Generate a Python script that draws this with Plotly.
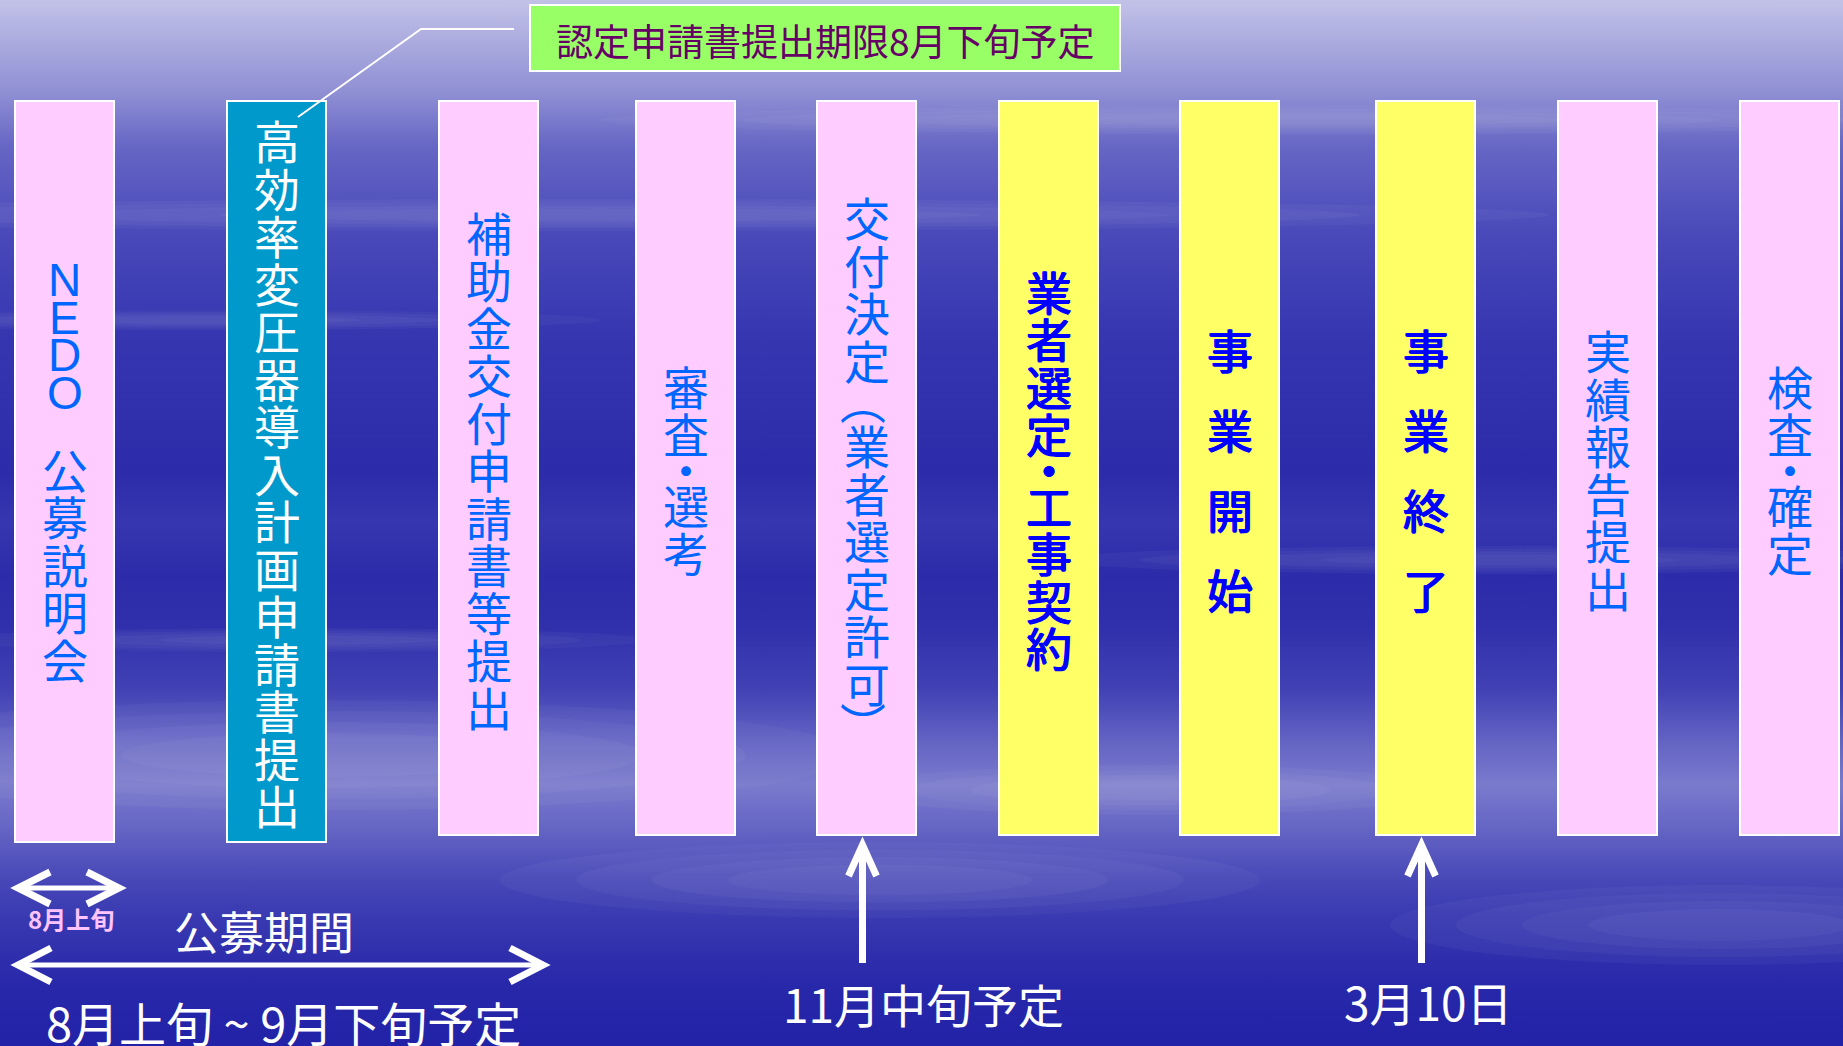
import plotly.graph_objects as go

# ---------------- data ----------------
step_labels = [
    "NEDO 公募説明会",
    "高効率変圧器導入計画申請書提出",
    "補助金交付申請書等提出",
    "審査・選考",
    "交付決定（業者選定許可）",
    "業者選定・工事契約",
    "事 業 開 始",
    "事 業 終 了",
    "実績報告提出",
    "検査・確定",
]
step_kind = ["pink", "teal", "pink", "pink", "pink",
             "yellow", "yellow", "yellow", "pink", "pink"]
deadline_note = "認定申請書提出期限8月下旬予定"
briefing_period = "8月上旬"
call_title = "公募期間"
call_period = "8月上旬 ~ 9月下旬予定"
milestone_labels = ["11月中旬予定", "3月10日"]
milestone_steps = [4, 7]

# ---------------- layout constants ----------------
W, H = 1843, 1046
box_left = [15, 227, 439, 636, 817, 999, 1180, 1376, 1558, 1740]
box_w = 99
box_top = 101
box_bottom = [842, 842, 835, 835, 835, 835, 835, 835, 835, 835]
fill_col = {"pink": "#FFCCFF", "teal": "#0099CC", "yellow": "#FFFF66"}
text_col = {"pink": "#0066FF", "teal": "#FFFFFF", "yellow": "#0000FF"}
text_shadow = {
    "pink": "none", "teal": "none",
    "yellow": "0.8px 0px 0px #0000FF, -0.8px 0px 0px #0000FF, 0px 0.6px 0px #0000FF",
}
PITCH = 47.5
FS = 46
CJK = "Noto Sans CJK JP"
PARENS = "（）"

def advance(ch):
    if ch == " ":
        return 0.68 * PITCH
    if ch == "・":
        return 0.5 * PITCH
    if ch in PARENS:
        return 0.8 * PITCH
    if ord(ch) < 128:
        return 0.79 * PITCH
    return PITCH

fig = go.Figure()

# background sky gradient
bg_stops = [
    (0.00, "#C2C2E8"), (0.04, "#ABABDF"), (0.09, "#8E8ED4"), (0.14, "#6666C5"),
    (0.22, "#4A4ABA"), (0.32, "#3636B1"), (0.45, "#2C2CAA"), (0.50, "#3636B0"),
    (0.55, "#2C2CAA"), (0.60, "#3030AC"), (0.66, "#4242B5"), (0.71, "#6464C4"),
    (0.75, "#7A7ACD"), (0.79, "#6666C5"), (0.84, "#4848B8"), (0.88, "#3838B1"),
    (0.94, "#2828AA"), (1.00, "#2222A8"),
]
fig.add_trace(go.Scatter(
    x=[0, W, W, 0, 0], y=[0, 0, H, H, 0], mode="lines", fill="toself",
    line=dict(width=0), hoverinfo="skip", showlegend=False,
    fillgradient=dict(type="vertical", start=0, stop=H,
                      colorscale=[[s, c] for s, c in bg_stops]),
))

shapes = []
# soft cloud streaks: layered translucent ellipses (cx, cy, rx, ry)
clouds = [
    (330, 755, 520, 55), (880, 880, 380, 38), (1720, 925, 330, 40),
    (1150, 790, 300, 25), (600, 215, 950, 16), (1300, 120, 700, 14),
    (200, 320, 400, 10), (1500, 560, 450, 14), (300, 640, 350, 12),
]
for cx, cy, rx, ry in clouds:
    for f in (1.0, 0.8, 0.6, 0.4):
        shapes.append(dict(type="circle", x0=cx - rx * f, x1=cx + rx * f,
                           y0=cy - ry * f, y1=cy + ry * f,
                           fillcolor="white", opacity=0.035, line=dict(width=0)))

annotations = []

# step boxes with vertical (tategaki) text
for i, label in enumerate(step_labels):
    kind = step_kind[i]
    x0 = box_left[i]
    x1 = x0 + box_w
    shapes.append(dict(type="rect", x0=x0, x1=x1, y0=box_top, y1=box_bottom[i],
                       fillcolor=fill_col[kind], line=dict(color="white", width=2)))
    cx = (x0 + x1) / 2
    cy = (box_top + box_bottom[i]) / 2
    total = sum(advance(c) for c in label)
    y = cy - total / 2
    for ch in label:
        a = advance(ch)
        if ch != " ":
            fam = "Liberation Sans" if ord(ch) < 128 else CJK
            annotations.append(dict(
                x=cx, y=y + a / 2, text=ch, showarrow=False,
                xanchor="center", yanchor="middle",
                textangle=90 if ch in PARENS else 0,
                font=dict(family=fam, size=FS, color=text_col[kind],
                          shadow=text_shadow[kind])))
        y += a

# deadline note box + callout line
shapes.append(dict(type="rect", x0=530, x1=1120, y0=5, y1=71,
                   fillcolor="#99FF66", line=dict(color="white", width=2)))
annotations.append(dict(x=825, y=40, text=deadline_note, showarrow=False,
                        xanchor="center", yanchor="middle",
                        font=dict(family=CJK, size=37, color="#660066")))
shapes.append(dict(type="path", path="M 298 117 L 421 29 L 514 29",
                   line=dict(color="white", width=2)))

# arrows
def h_double_arrow(xa, xb, y, head, half, w):
    shapes.append(dict(type="line", x0=xa + 3, x1=xb - 3, y0=y, y1=y,
                       line=dict(color="white", width=w)))
    shapes.append(dict(type="path",
                       path=f"M {xa+head} {y-half} L {xa} {y} L {xa+head} {y+half}",
                       line=dict(color="white", width=w + 2)))
    shapes.append(dict(type="path",
                       path=f"M {xb-head} {y-half} L {xb} {y} L {xb-head} {y+half}",
                       line=dict(color="white", width=w + 2)))

h_double_arrow(18, 119, 888, 32, 16, 5)
h_double_arrow(18, 543, 965, 33, 17, 5)

for k, si in enumerate(milestone_steps):
    ax = box_left[si] + box_w / 2 - 4
    shapes.append(dict(type="line", x0=ax, x1=ax, y0=850, y1=963,
                       line=dict(color="white", width=7)))
    shapes.append(dict(type="path",
                       path=f"M {ax-14} {876} L {ax} {845} L {ax+14} {876}",
                       line=dict(color="white", width=7)))

# bottom texts
annotations.append(dict(x=71, y=918, text=f"<b>{briefing_period}</b>", showarrow=False,
                        xanchor="center", yanchor="middle",
                        font=dict(family=CJK, size=24, color="#FFC4FF")))
annotations.append(dict(x=264, y=930, text=call_title, showarrow=False,
                        xanchor="center", yanchor="middle",
                        font=dict(family=CJK, size=45, color="white")))
annotations.append(dict(x=283, y=1021, text=call_period, showarrow=False,
                        xanchor="center", yanchor="middle",
                        font=dict(family=CJK, size=47, color="white")))
milestone_x = [923, 1428]
milestone_y = [1003, 1001]
for k, lab in enumerate(milestone_labels):
    annotations.append(dict(x=milestone_x[k], y=milestone_y[k], text=lab, showarrow=False,
                            xanchor="center", yanchor="middle",
                            font=dict(family=CJK, size=46, color="white")))

fig.update_layout(
    width=W, height=H, margin=dict(l=0, r=0, t=0, b=0),
    paper_bgcolor="#2A2AAA", plot_bgcolor="#2A2AAA",
    xaxis=dict(range=[0, W], visible=False, fixedrange=True),
    yaxis=dict(range=[H, 0], visible=False, fixedrange=True),
    shapes=shapes, annotations=annotations, showlegend=False,
)

fig.write_html("out.html", config={"displayModeBar": False},
               post_script="document.body.style.margin='0';document.body.style.overflow='hidden';")
